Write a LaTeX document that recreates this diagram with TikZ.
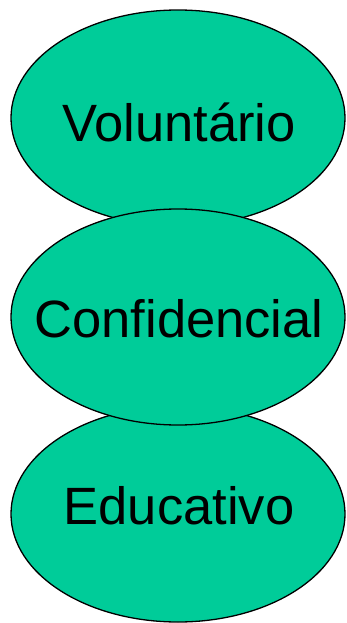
\documentclass[tikz,border=0pt]{standalone}
\usepackage{fontspec}
\setmainfont{Liberation Sans}
\usetikzlibrary{shapes.geometric}
\definecolor{teal}{RGB}{0,204,153}
\tikzset{
  oval/.style={ellipse, draw=black, line width=1.3pt, fill=teal,
    minimum width=334pt, minimum height=216pt, inner sep=0pt},
  word/.style={anchor=base, inner sep=0pt, font=\fontsize{52.5}{60}\selectfont}
}
\begin{document}
\begin{tikzpicture}[x=1pt,y=-1pt]
\useasboundingbox (0,0) rectangle (347,623);
\node[oval] (e1) at (178,118) {};
\node[oval] (e3) at (178,514) {};
\node[oval] (e2) at (178,317) {};
\node[word] (t1) at (179,141.7) {Voluntário};
\node[word] (t2) at (179,337) {Confidencial};
\node[word] (t3) at (179,524) {Educativo};
\end{tikzpicture}
\end{document}
